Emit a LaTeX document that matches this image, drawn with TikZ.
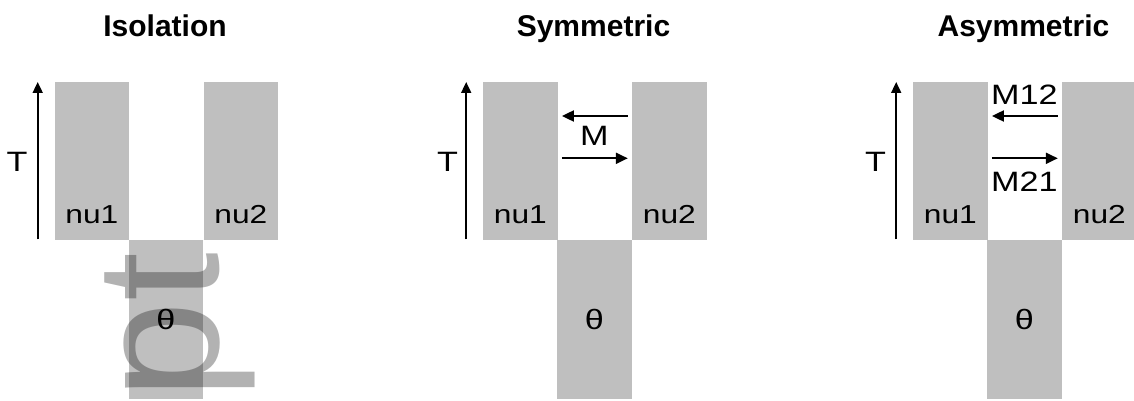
\documentclass[tikz,border=0pt]{standalone}
\usepackage{fontspec}
\setmainfont{Liberation Sans}
\newfontfamily\widesans[FakeStretch=1.22]{Liberation Sans}
\usetikzlibrary{arrows.meta,calc}

\tikzset{
  popbox/.style={fill=black!25, draw=none, inner sep=0pt, minimum width=74.7pt, anchor=north west},
  lab/.style={inner sep=0pt, font=\widesans\fontsize{26}{30}\selectfont},
  biglab/.style={inner sep=0pt, font=\widesans\fontsize{28}{32}\selectfont},
  ttl/.style={inner sep=0pt, anchor=base, font=\bfseries\fontsize{30}{34}\selectfont},
  timearrow/.style={line width=1.8pt, -{Triangle[length=11pt,width=10pt]}},
  migarrow/.style={line width=2pt, -{Triangle[length=12pt,width=11pt]}},
}

\begin{document}
\begin{tikzpicture}[x=1pt, y=-1pt]
\useasboundingbox (0,0) rectangle (1134,401);
\clip (0,0) rectangle (1134,401);

% ---------------- Isolation ----------------
\begin{scope}
  \node[ttl] (t1) at (165,36.5) {Isolation};
  \node[popbox, minimum height=157.6pt] (a1) at (54.3,81.7) {};
  \node[popbox, minimum height=157.6pt] (b1) at (203.3,81.7) {};
  \node[popbox, minimum height=159pt] (c1) at (128.3,239.3) {};
  \node[lab, anchor=base, yshift=16pt] (a1l) at (a1.south) {nu1};
  \node[lab, anchor=base, yshift=16pt] (b1l) at (b1.south) {nu2};
  \node[biglab] (c1l) at (c1.center) {θ};
  \coordinate (s1) at (37.7,239.3);
  \coordinate (e1) at (37.7,82);
  \draw[timearrow] (s1) -- (e1);
  \node[biglab] (T1) at (17,161.5) {T};
  % large translucent mark over the ancestral population
  \node[inner sep=0pt, anchor=base west, rotate=90, text=black, text opacity=0.3,
        font=\fontsize{176}{176}\selectfont] (pt) at (218,400) {pt};
\end{scope}

% ---------------- Symmetric ----------------
\begin{scope}[xshift=428.5pt]
  \node[ttl] (t2) at (165,36.5) {Symmetric};
  \node[popbox, minimum height=157.6pt] (a2) at (54.3,81.7) {};
  \node[popbox, minimum height=157.6pt] (b2) at (203.3,81.7) {};
  \node[popbox, minimum height=159pt] (c2) at (128.3,239.3) {};
  \node[lab, anchor=base, yshift=16pt] (a2l) at (a2.south) {nu1};
  \node[lab, anchor=base, yshift=16pt] (b2l) at (b2.south) {nu2};
  \node[biglab] (c2l) at (c2.center) {θ};
  \coordinate (s2) at (37.7,239.3);
  \coordinate (e2) at (37.7,82);
  \draw[timearrow] (s2) -- (e2);
  \node[biglab] (T2) at (19,161.5) {T};
  \coordinate (m2a) at ($(b2.north west)+(-4,34.3)$);
  \coordinate (m2b) at ($(a2.north east)+(4,34.3)$);
  \coordinate (m2c) at ($(a2.north east)+(4,76.6)$);
  \coordinate (m2d) at ($(b2.north west)+(-4,76.6)$);
  \draw[migarrow] (m2a) -- (m2b);
  \draw[migarrow] (m2c) -- (m2d);
  \node[biglab, anchor=base] (M2) at (165.8,145) {M};
\end{scope}

% ---------------- Asymmetric ----------------
\begin{scope}[xshift=858.5pt]
  \node[ttl] (t3) at (165,36.5) {Asymmetric};
  \node[popbox, minimum height=157.6pt] (a3) at (54.3,81.7) {};
  \node[popbox, minimum height=157.6pt] (b3) at (203.3,81.7) {};
  \node[popbox, minimum height=159pt] (c3) at (128.3,239.3) {};
  \node[lab, anchor=base, yshift=16pt] (a3l) at (a3.south) {nu1};
  \node[lab, anchor=base, yshift=16pt] (b3l) at (b3.south) {nu2};
  \node[biglab] (c3l) at (c3.center) {θ};
  \coordinate (s3) at (37.7,239.3);
  \coordinate (e3) at (37.7,82);
  \draw[timearrow] (s3) -- (e3);
  \node[biglab] (T3) at (17,161.5) {T};
  \coordinate (m3a) at ($(b3.north west)+(-4,34.3)$);
  \coordinate (m3b) at ($(a3.north east)+(4,34.3)$);
  \coordinate (m3c) at ($(a3.north east)+(4,76.6)$);
  \coordinate (m3d) at ($(b3.north west)+(-4,76.6)$);
  \draw[migarrow] (m3a) -- (m3b);
  \draw[migarrow] (m3c) -- (m3d);
  \node[biglab, anchor=base] (M12) at (165.8,105) {M12};
  \node[biglab, anchor=base] (M21) at (165.8,191.7) {M21};
\end{scope}
\end{tikzpicture}
\end{document}
